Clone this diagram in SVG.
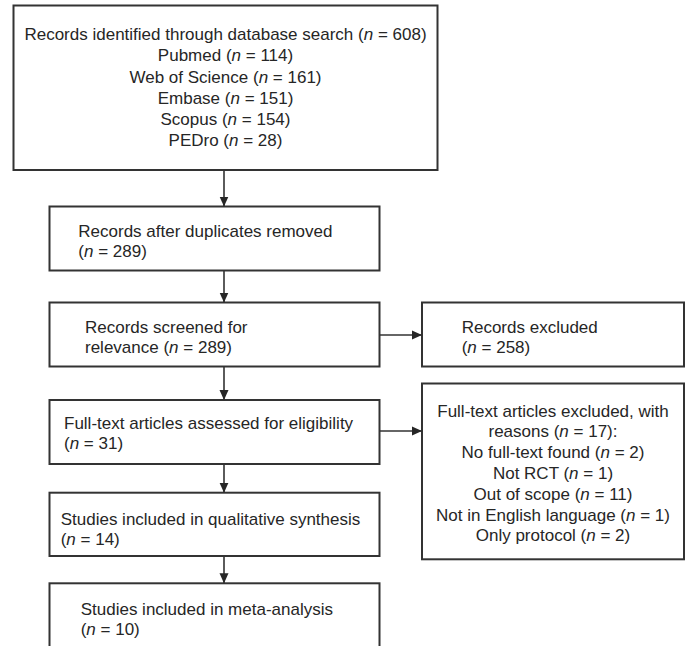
<svg xmlns="http://www.w3.org/2000/svg" width="690" height="646" viewBox="0 0 690 646">
<style>
rect.box { fill: #ffffff; stroke: #333333; stroke-width: 2; }
text { font-family: "Liberation Sans", Arial, sans-serif; font-size: 17px; fill: #262626; }
text.c { text-anchor: middle; }
.i { font-style: italic; }
.conn line { stroke: #333333; stroke-width: 1.6; marker-end: url(#ah); }
</style>
<defs>
<marker id="ah" markerUnits="userSpaceOnUse" markerWidth="10" markerHeight="10" viewBox="0 0 10 10" refX="10" refY="5" orient="auto">
<path d="M0,0.5 L10,5 L0,9.5 Z" fill="#262626"/>
</marker>
</defs>
<rect x="0" y="0" width="690" height="646" fill="#ffffff"/>

<g id="identified">
<rect class="box" x="13.5" y="5.5" width="424" height="164.5"/>
<text class="c" x="225.5" y="39.5">Records identified through database search (<tspan class="i">n</tspan> = 608)</text>
<text class="c" x="225.5" y="61">Pubmed (<tspan class="i">n</tspan> = 114)</text>
<text class="c" x="225.5" y="82.5">Web of Science (<tspan class="i">n</tspan> = 161)</text>
<text class="c" x="225.5" y="104">Embase (<tspan class="i">n</tspan> = 151)</text>
<text class="c" x="225.5" y="125">Scopus (<tspan class="i">n</tspan> = 154)</text>
<text class="c" x="225.5" y="146">PEDro (<tspan class="i">n</tspan> = 28)</text>
</g>

<g id="duplicates">
<rect class="box" x="49.5" y="206.5" width="330" height="64"/>
<text x="78.3" y="236.7">Records after duplicates removed</text>
<text x="78.3" y="256.7">(<tspan class="i">n</tspan> = 289)</text>
</g>

<g id="screened">
<rect class="box" x="49.5" y="302.5" width="330" height="64"/>
<text x="85" y="333.3">Records screened for</text>
<text x="85" y="353.3">relevance (<tspan class="i">n</tspan> = 289)</text>
</g>

<g id="excluded">
<rect class="box" x="422" y="302.5" width="262" height="64"/>
<text x="461.7" y="333.3">Records excluded</text>
<text x="461.7" y="353.3">(<tspan class="i">n</tspan> = 258)</text>
</g>

<g id="fulltext">
<rect class="box" x="49.5" y="400" width="330" height="64"/>
<text x="64" y="429">Full-text articles assessed for eligibility</text>
<text x="64" y="449">(<tspan class="i">n</tspan> = 31)</text>
</g>

<g id="fulltext-excluded">
<rect class="box" x="422" y="383.5" width="262" height="175.8"/>
<text class="c" x="553" y="416.5">Full-text articles excluded, with</text>
<text class="c" x="553" y="437.3">reasons (<tspan class="i">n</tspan> = 17):</text>
<text class="c" x="553" y="458.1">No full-text found (<tspan class="i">n</tspan> = 2)</text>
<text class="c" x="553" y="478.9">Not RCT (<tspan class="i">n</tspan> = 1)</text>
<text class="c" x="553" y="499.7">Out of scope (<tspan class="i">n</tspan> = 11)</text>
<text class="c" x="553" y="520.5">Not in English language (<tspan class="i">n</tspan> = 1)</text>
<text class="c" x="553" y="541.3">Only protocol (<tspan class="i">n</tspan> = 2)</text>
</g>

<g id="qualitative">
<rect class="box" x="49.5" y="492.7" width="330" height="63.3"/>
<text x="60.7" y="525">Studies included in qualitative synthesis</text>
<text x="60.7" y="545">(<tspan class="i">n</tspan> = 14)</text>
</g>

<g id="meta">
<rect class="box" x="49.5" y="583.3" width="330" height="80"/>
<text x="80.7" y="615">Studies included in meta-analysis</text>
<text x="80.7" y="635">(<tspan class="i">n</tspan> = 10)</text>
</g>

<g id="connectors" class="conn">
<line x1="224" y1="170" x2="224" y2="206.5"/>
<line x1="224" y1="270.5" x2="224" y2="302.5"/>
<line x1="224" y1="366.5" x2="224" y2="400"/>
<line x1="224" y1="464" x2="224" y2="492.7"/>
<line x1="224" y1="556" x2="224" y2="583.3"/>
<line x1="379.5" y1="335" x2="422" y2="335"/>
<line x1="379.5" y1="431" x2="422" y2="431"/>
</g>
</svg>
